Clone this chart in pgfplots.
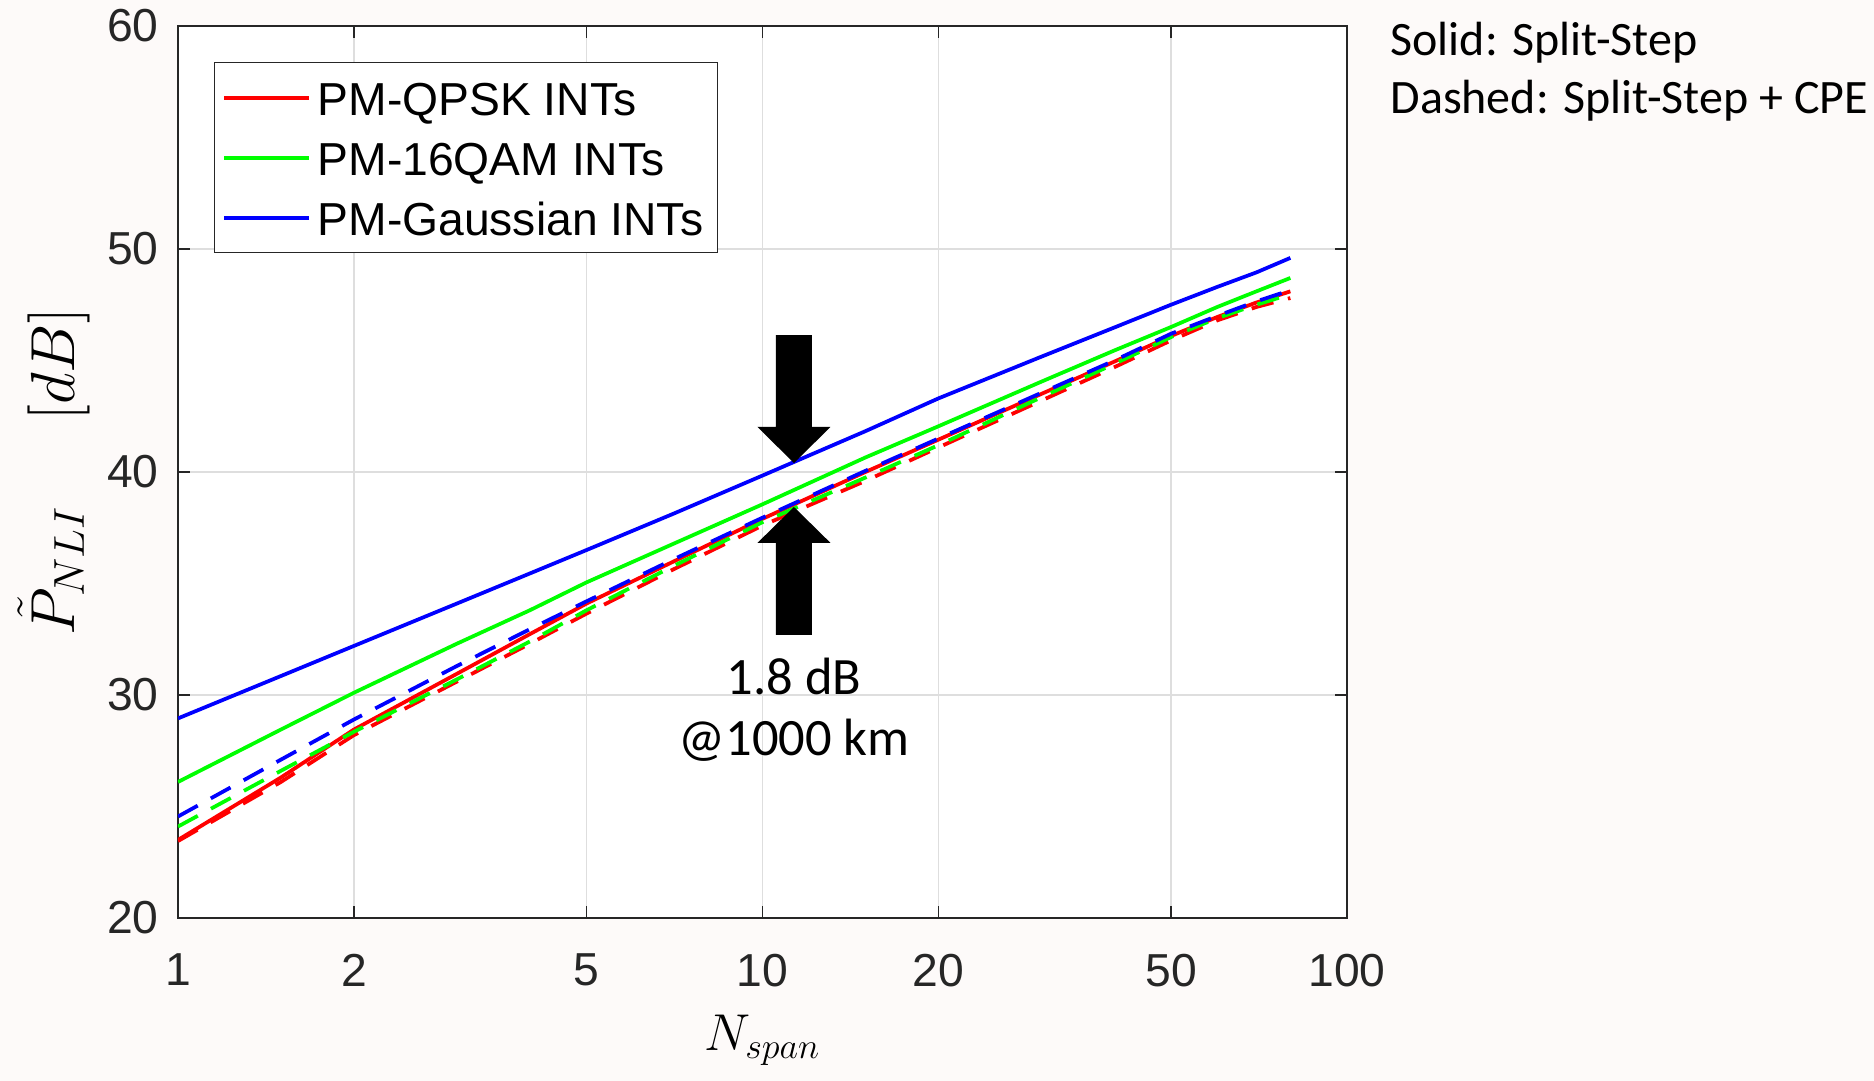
\documentclass[border=0pt]{standalone}
\usepackage{fontspec}
\setmainfont{Liberation Sans}
\newfontfamily\carlito{Carlito}
\usepackage{pgfplots}
\pgfplotsset{compat=1.18}
\definecolor{bgc}{RGB}{253,250,249}
\definecolor{axc}{RGB}{38,38,38}
\definecolor{cr}{RGB}{255,0,0}
\definecolor{cg}{RGB}{0,255,0}
\definecolor{cb}{RGB}{0,0,255}
\begin{document}
\begin{tikzpicture}[x=1pt,y=1pt]
\fill[bgc] (0,0) rectangle (749.6,432.4);
\path[use as bounding box] (0,0) rectangle (749.6,432.4);
\begin{axis}[
  at={(71.2pt,65.2pt)}, anchor=south west, scale only axis,
  width=467.6pt, height=356.8pt,
  xmode=log, xmin=1, xmax=100, ymin=20, ymax=60,
  xtick={1,2,5,10,20,50,100}, xticklabels={1,2,5,10,20,50,100},
  minor xtick={}, ytick={20,30,40,50,60},
  grid=major, major grid style={black!13, line width=0.5pt},
  axis background/.style={fill=white},
  axis line style={axc, line width=0.6pt},
  tick style={axc, line width=0.6pt}, major tick length=4.8pt,
  tick align=inside,
  ticklabel style={font=\fontsize{18.5}{22}\selectfont, text=axc},
  /pgf/number format/assume math mode=true,
  xticklabel style={yshift=-10.9pt},
  yticklabel style={xshift=-4.2pt},
  xlabel={$N_{span}$},
  ylabel={$\tilde{P}_{NLI}\hspace{1.4em}[dB]$},
  xlabel style={font=\fontsize{22.4}{26}\selectfont, at={(axis description cs:0.5,0)}, anchor=center, yshift=-48.8pt},
  ylabel style={font=\fontsize{24.5}{28}\selectfont, at={(axis description cs:-0.1061,0.5)}, anchor=center, yshift=0pt},
  legend cell align=left,
  legend style={at={(rel axis cs:0.0308,0.9596)}, anchor=north west,
    draw=axc, line width=0.5pt, fill=white,
    font=\fontsize{18.5}{22}\selectfont,
    inner xsep=3pt, inner ysep=5pt, row sep=6pt,
    nodes={inner xsep=2.7pt, inner ysep=0pt, text height=16pt, text depth=2pt}},
  legend image code/.code={\draw[#1] (0pt,0pt) -- (34pt,0pt);},
  every axis plot/.append style={line width=1.5pt},
]
% solid
\addplot[cr] coordinates {(1,23.5) (1.5,26.3) (2,28.45) (3,30.95) (4,32.73) (5,34.1) (7,35.95) (10,37.9) (15,40.0) (20,41.45) (30,43.5) (40,44.95) (50,46.1) (60,46.95) (70,47.6) (80,48.1)};
\addplot[cg] coordinates {(1,26.1) (1.5,28.45) (2,30.1) (3,32.3) (4,33.8) (5,35.05) (7,36.75) (10,38.55) (15,40.65) (20,42.05) (30,44.05) (40,45.45) (50,46.5) (60,47.4) (70,48.1) (80,48.7)};
\addplot[cb] coordinates {(1,28.95) (1.5,30.85) (2,32.2) (3,34.1) (4,35.45) (5,36.5) (7,38.1) (10,39.84) (15,41.83) (20,43.3) (30,45.17) (40,46.48) (50,47.5) (60,48.3) (70,48.95) (80,49.6)};
\legend{PM-QPSK INTs, PM-16QAM INTs, PM-Gaussian INTs}
% dashed
\addplot[cr, dash pattern=on 9pt off 6pt, forget plot] coordinates {(1,23.45) (1.5,26.1) (2,28.2) (3,30.6) (4,32.3) (5,33.65) (7,35.6) (10,37.6) (15,39.6) (20,41.1) (30,43.2) (40,44.7) (50,45.9) (60,46.8) (70,47.4) (80,47.8)};
\addplot[cg, dash pattern=on 9pt off 6pt, forget plot] coordinates {(1,24.1) (1.5,26.6) (2,28.35) (3,30.7) (4,32.4) (5,33.8) (7,35.75) (10,37.75) (15,39.75) (20,41.2) (30,43.35) (40,44.85) (50,46.05) (60,46.9) (70,47.5) (80,47.97)};
\addplot[cb, dash pattern=on 9pt off 6pt, forget plot] coordinates {(1,24.55) (1.5,27.1) (2,28.9) (3,31.3) (4,32.95) (5,34.2) (7,36.05) (10,37.95) (15,40.05) (20,41.5) (30,43.55) (40,45.0) (50,46.2) (60,47.0) (70,47.65) (80,48.15)};
% arrows
\fill[black] ([xshift=-7.2pt]axis cs:11.32,46.14) -- ([xshift=7.2pt]axis cs:11.32,46.14) -- ([xshift=7.2pt]axis cs:11.32,42.02) -- ([xshift=14.6pt]axis cs:11.32,42.02) -- (axis cs:11.32,40.4) -- ([xshift=-14.6pt]axis cs:11.32,42.02) -- ([xshift=-7.2pt]axis cs:11.32,42.02) -- cycle;
\fill[black] ([xshift=-7.2pt]axis cs:11.32,32.69) -- ([xshift=7.2pt]axis cs:11.32,32.69) -- ([xshift=7.2pt]axis cs:11.32,36.82) -- ([xshift=14.6pt]axis cs:11.32,36.82) -- (axis cs:11.32,38.43) -- ([xshift=-14.6pt]axis cs:11.32,36.82) -- ([xshift=-7.2pt]axis cs:11.32,36.82) -- cycle;
\node[font=\carlito\fontsize{21}{25}\selectfont, anchor=center] at (axis cs:11.32,30.85) {1.8 dB};
\node[font=\carlito\fontsize{21}{25}\selectfont, anchor=center] at (axis cs:11.32,27.98) {@1000 km};
\end{axis}
\node[font=\carlito\fontsize{19.2}{23}\selectfont, anchor=west, inner sep=0pt] at (556,415.4) {Solid: Split-Step};
\node[font=\carlito\fontsize{19.2}{23}\selectfont, anchor=west, inner sep=0pt] at (556,392.2) {Dashed: Split-Step + CPE};
\end{tikzpicture}
\end{document}
